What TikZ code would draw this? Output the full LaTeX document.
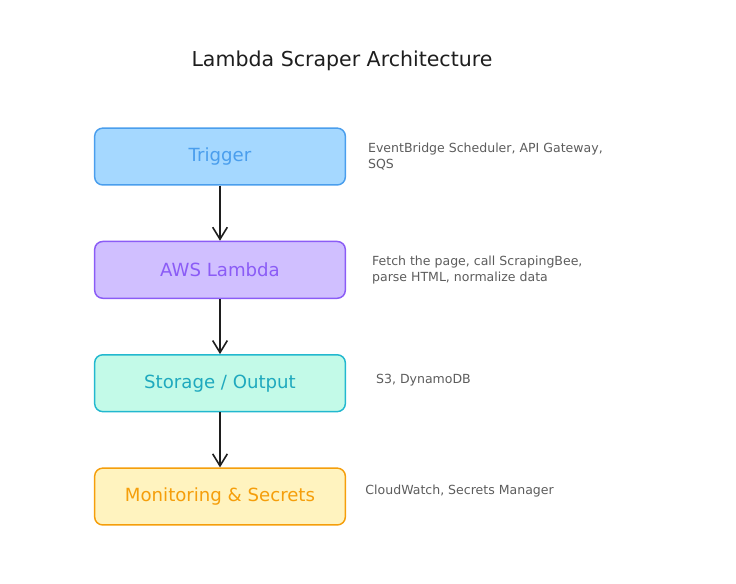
\documentclass[tikz,border=0pt]{standalone}
\usepackage{fontspec}
\setmainfont{DejaVu Sans}
\usetikzlibrary{positioning, arrows.meta}
\definecolor{clrtrigger}{HTML}{A5D8FF}
\definecolor{clrtriggerline}{HTML}{4A9EED}
\definecolor{clrlambda}{HTML}{D0BFFF}
\definecolor{clrlambdaline}{HTML}{8B5CF6}
\definecolor{clrstorage}{HTML}{C3FAE8}
\definecolor{clrstorageline}{HTML}{22B8CF}
\definecolor{clrmonitor}{HTML}{FFF3BF}
\definecolor{clrmonitorline}{HTML}{F59E0B}
\definecolor{clrtext}{HTML}{1E1E1E}
\definecolor{clrnote}{HTML}{5C5C5C}

\begin{document}
\begin{tikzpicture}[
    every node/.style={font=\sffamily},
    block/.style={rounded corners=6pt, minimum width=188pt, minimum height=42.6pt,
                  line width=1.1pt, font=\fontsize{13.6}{16}\selectfont},
    arrow/.style={-{Straight Barb[length=9pt, width=11pt, line width=1.2pt]}, line width=1.4pt, color=clrtext},
    note/.style={font=\fontsize{9.4}{12}\selectfont, text=clrnote, align=left, anchor=west},
    title/.style={font=\fontsize{15.4}{18}\selectfont, text=clrtext},
]
\useasboundingbox (0,0) rectangle (552pt,-437.25pt);
\node[title] (t_0) at (256.5pt,-45.75pt) {Lambda Scraper Architecture};
\node[block, draw=clrtriggerline, fill=clrtrigger, text=clrtriggerline] (n_1) at (165pt,-117.4pt) {Trigger};
\node[block, draw=clrlambdaline, fill=clrlambda, text=clrlambdaline, below=41.3pt of n_1] (n_2) {AWS Lambda};
\node[block, draw=clrstorageline, fill=clrstorage, text=clrstorageline!92!black, below=41.3pt of n_2] (n_3) {Storage / Output};
\node[block, draw=clrmonitorline, fill=clrmonitor, text=clrmonitorline, below=41.3pt of n_3] (n_4) {Monitoring \& Secrets};
\draw[arrow] (n_1.south) -- (n_2.north);
\draw[arrow] (n_2.south) -- (n_3.north);
\draw[arrow] (n_3.south) -- (n_4.north);
\node[note, right=13pt of n_1.east] (d_1) {EventBridge Scheduler, API Gateway,\\SQS};
\node[note, right=16pt of n_2.east] (d_2) {Fetch the page, call ScrapingBee,\\parse HTML, normalize data};
\node[note, right=19pt of n_3.east, yshift=2pt] (d_3) {S3, DynamoDB};
\node[note, right=11pt of n_4.east, yshift=4pt] (d_4) {CloudWatch, Secrets Manager};
\end{tikzpicture}
\end{document}
